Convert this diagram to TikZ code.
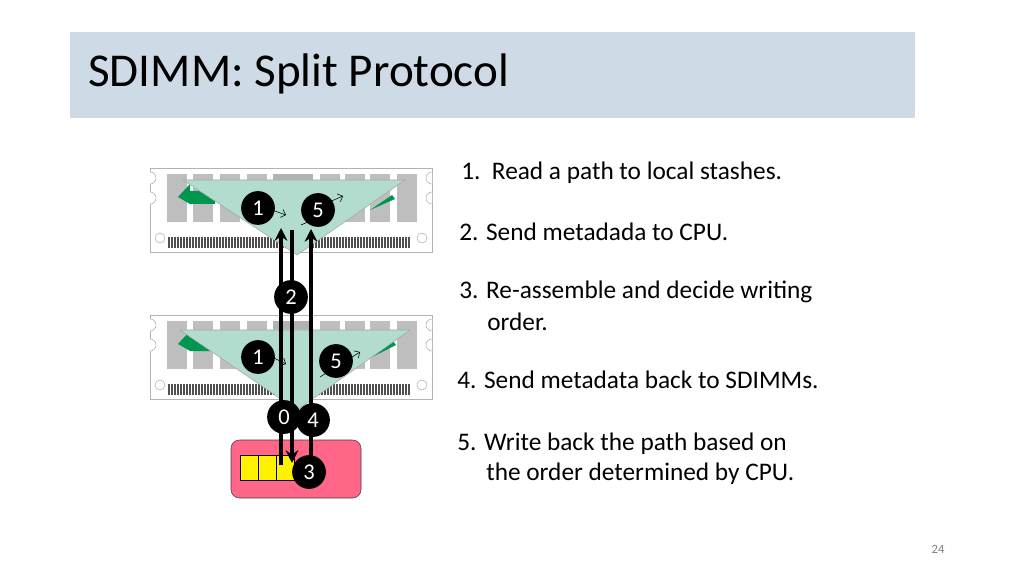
\documentclass[tikz,border=0pt]{standalone}
\usepackage{fontspec}
\setmainfont{Carlito}
\usetikzlibrary{arrows.meta}
\definecolor{headbg}{RGB}{206,219,230}
\definecolor{tri}{RGB}{178,220,206}
\definecolor{chipg}{RGB}{190,190,190}
\definecolor{pinc}{RGB}{80,80,80}
\definecolor{cpuc}{RGB}{255,102,136}
\definecolor{arrg}{RGB}{0,150,80}
\tikzset{
  badge/.style={circle, fill=black, text=white, inner sep=0pt, minimum size=24, font=\fontsize{16}{16}\selectfont},
  stepline/.style={anchor=west, inner sep=0pt, font=\fontsize{18}{18}\selectfont},
  flow/.style={line width=2.2pt, -{Stealth[length=9pt,width=9pt]}},
  hint/.style={thin, -{Straight Barb[length=3pt]}}
}
\newcommand{\dimm}[1]{%
  \begin{scope}[shift={(0,#1)}]
    \draw[gray!60, fill=white] (150,168) rectangle (432,252);
    \foreach \cx in {167,193,220,247,320,345,370,397}
      \fill[chipg] (\cx,174) rectangle +(20,48);
    \fill[gray!60] (273,174) rectangle (313,182);
    \fill[chipg] (273,182) rectangle (313,222);
    \foreach \px in {168,171,...,408}
      \fill[pinc] (\px,237) rectangle +(2,11);
    \draw[gray!60] (160,238) circle (5);
    \draw[gray!60] (422,238) circle (5);
    \foreach \ny in {190,210} {
      \draw[gray!60, fill=white] (150,\ny-6) arc (90:-90:6);
      \draw[gray!60, fill=white] (432,\ny-6) arc (90:270:6);
    }
  \end{scope}}
\begin{document}
\begin{tikzpicture}[x=0.025cm, y=-0.025cm]
  \useasboundingbox (0,0) rectangle (1024,576);

  % title bar
  \fill[headbg] (70,32) rectangle (915,118);
  \node[anchor=west, inner sep=0pt, font=\fontsize{33.5}{33.5}\selectfont] (title) at (88,74) {SDIMM: Split Protocol};

  % modules
  \dimm{0}
  \dimm{147}
  \fill[arrg] (178,197) -- (190,184) -- (190,191) -- (215,191) -- (215,204) -- (190,204) -- cycle;
  \fill[arrg] (370,210) -- (392,195) -- (395,199) -- cycle;
  \fill[arrg] (178,344) -- (190,331) -- (190,338) -- (215,338) -- (215,351) -- (190,351) -- cycle;
  \fill[arrg] (372,357) -- (393,341) -- (396,345) -- cycle;
  \draw[gray!70, fill=tri] (183,180) -- (405,180) -- (297,255) -- cycle;
  \draw[gray!70, fill=tri] (180,330) -- (410,330) -- (297,410) -- cycle;

  % CPU
  \draw[gray!50!black, fill=cpuc, rounded corners=6pt] (231,440) rectangle (361,498);
  \foreach \i in {0,1,2}
    \draw[fill=yellow] (240+\i*18,455) rectangle +(18,25);

  % flows
  \coordinate (r0) at (281,465);
  \coordinate (r1) at (281,228);
  \coordinate (m0) at (292,230);
  \coordinate (m1) at (292,463);
  \coordinate (w0) at (311,462);
  \coordinate (w1) at (311,229);
  \draw[flow] (r0) -- (r1);
  \draw[flow] (m0) -- (m1);
  \draw[flow] (w0) -- (w1);

  \coordinate (h1a) at (272,210); \coordinate (h1b) at (286,215);
  \coordinate (h5a) at (327,203); \coordinate (h5b) at (343,196);
  \coordinate (h2a) at (272,357); \coordinate (h2b) at (286,364);
  \coordinate (h6a) at (320,377); \coordinate (h6b) at (360,352);
  \coordinate (h3a) at (301,225); \coordinate (h3b) at (310,221);
  \draw[hint] (h1a) -- (h1b);
  \draw[hint] (h5a) -- (h5b);
  \draw[hint] (h2a) -- (h2b);
  \draw[hint] (h6a) -- (h6b);
  \draw[thin] (h3a) -- (h3b);

  \node[badge] (b1) at (258,208) {1};
  \node[badge] (b5) at (318,210) {5};
  \node[badge] (b2) at (291,297) {2};
  \node[badge] (c1) at (258,357) {1};
  \node[badge] (c5) at (336,361) {5};
  \node[badge] (b0) at (284,417) {0};
  \node[badge] (b4) at (313,420) {4};
  \node[badge] (b3) at (309,472) {3};

  % steps
  \node[stepline] (s1) at (461,173) {1.\ \ Read a path to local stashes.};
  \node[stepline] (s2) at (459,232) {2. Send metadada to CPU.};
  \node[stepline] (s3) at (459,292) {3. Re-assemble and decide writing};
  \node[stepline] (s3b) at (487,322) {order.};
  \node[stepline] (s4) at (457,380) {4. Send metadata back to SDIMMs.};
  \node[stepline] (s5) at (457,444) {5. Write back the path based on};
  \node[stepline] (s5b) at (486,474) {the order determined by CPU.};

  \node[text=gray, font=\fontsize{9}{9}\selectfont] (pg) at (938,549) {24};
\end{tikzpicture}
\end{document}
